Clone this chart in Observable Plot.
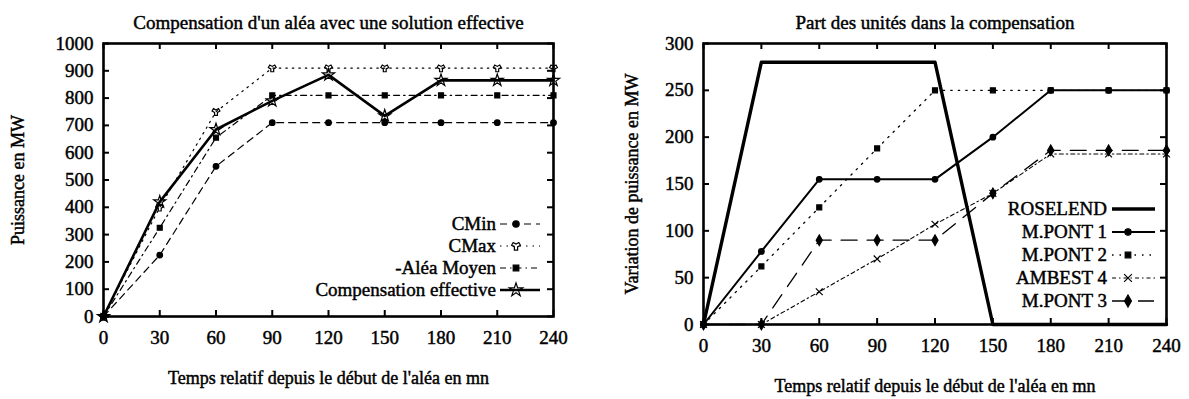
<!DOCTYPE html>
<html><head><meta charset="utf-8">
<script src="https://cdn.jsdelivr.net/npm/d3@7"></script>
<script src="https://cdn.jsdelivr.net/npm/@observablehq/plot@0.6"></script>
<style>
body{margin:0;background:#fff;}
#wrap{position:relative;width:1189px;height:399px;overflow:hidden;background:#fff;}
#wrap svg{position:absolute;top:0;overflow:visible;}
</style></head><body><div id="wrap"></div>
<script>
// ---------- shared ----------
const times = [0, 30, 60, 90, 120, 150, 180, 210, 240];
const xTicks = [0, 30, 60, 90, 120, 150, 180, 210, 240];
const xLabel = "Temps relatif depuis le début de l'aléa en mn";

// ---------- left chart ----------
const leftTitle = "Compensation d'un aléa avec une solution effective";
const leftYLabel = "Puissance en MW";
const leftYTicks = [0, 100, 200, 300, 400, 500, 600, 700, 800, 900, 1000];
const leftNames = ["CMin", "CMax", "-Aléa Moyen", "Compensation effective"];
const cMin = [0, 225, 550, 710, 710, 710, 710, 710, 710];
const cMax = [0, 400, 750, 910, 910, 910, 910, 910, 910];
const aleaMoyen = [0, 325, 655, 810, 810, 810, 810, 810, 810];
const compEffective = [0, 420, 685, 790, 885, 735, 865, 865, 865];

// ---------- right chart ----------
const rightTitle = "Part des unités dans la compensation";
const rightYLabel = "Variation de puissance en MW";
const rightYTicks = [0, 50, 100, 150, 200, 250, 300];
const rightNames = ["ROSELEND", "M.PONT 1", "M.PONT 2", "AMBEST 4", "M.PONT 3"];
const roselend = [0, 280, 280, 280, 280, 0, 0, 0, 0];
const mpont1 = [0, 78, 155, 155, 155, 200, 250, 250, 250];
const mpont2 = [0, 62, 125, 188, 250, 250, 250, 250, 250];
const ambest4 = [0, 0, 35, 70, 107, 140, 182, 182, 182];
const mpont3 = [0, 0, 90, 90, 90, 140, 186, 186, 186];

// ---------- styles ----------
const FONT = "'Liberation Serif', 'Times New Roman', serif";
const leftStyles = [
  {dash: "7,5", width: 1.2, symbol: d3.symbolCircle, r: 2.8, filled: true},
  {dash: "1.5,5", width: 1.2, symbol: d3.symbolWye, r: 3, filled: false},
  {dash: "6,4,1.5,4", width: 1.2, symbol: d3.symbolSquare, r: 2.8, filled: true},
  {dash: null, width: 2.6, symbol: d3.symbolStar, r: 3.8, filled: false}
];
const rightStyles = [
  {dash: null, width: 3.4, symbol: null},
  {dash: null, width: 2, symbol: d3.symbolCircle, r: 2.8, filled: true},
  {dash: "1.5,6", width: 1.3, symbol: d3.symbolSquare, r: 2.8, filled: true},
  {dash: "4,3,1.5,3", width: 1.1, symbol: d3.symbolTimes, r: 3.2, filled: false},
  {dash: "16,10", width: 1.3, symbol: d3.symbolDiamond, r: 3.2, filled: true}
];

function chart(cfg) {
  const {left, width, ml, mr, mt, mb, yDomain, yTicks, names, values, styles,
         title, yLabel, yLabelDx, xLabelDy, xPad, legend} = cfg;
  const height = 399;
  const fw = width - ml - mr, fh = height - mt - mb;
  const marks = [];
  values.forEach((vals, i) => {
    const st = styles[i];
    const data = times.map((t, j) => ({t, v: vals[j], name: names[i]}));
    marks.push(Plot.line(data, {x: "t", y: "v", stroke: "black", strokeWidth: st.width,
      strokeDasharray: st.dash, strokeLinejoin: "round"}));
    if (st.symbol) marks.push(Plot.dot(data, {x: "t", y: "v", symbol: st.symbol, r: st.r,
      fill: st.filled ? "black" : "none", stroke: "black", strokeWidth: 1.2}));
  });
  marks.push(
    Plot.tickX(xTicks, {x: d => d, insetTop: fh - 6, stroke: "black", strokeWidth: 2}),
    Plot.tickX(xTicks, {x: d => d, insetBottom: fh - 6, stroke: "black", strokeWidth: 2}),
    Plot.tickY(yTicks, {y: d => d, insetRight: fw - 6, stroke: "black", strokeWidth: 2}),
    Plot.tickY(yTicks, {y: d => d, insetLeft: fw - 6, stroke: "black", strokeWidth: 2}),
    Plot.frame({stroke: "black", strokeWidth: 2.6}),
    Plot.axisX(xTicks, {tickSize: 0, tickPadding: xPad, label: null, tickFormat: d => String(d)}),
    Plot.axisY(yTicks, {tickSize: 0, tickPadding: 10, label: null, tickFormat: d => String(d)}),
    Plot.text([title], {text: d => d, frameAnchor: "top", dy: -21, lineAnchor: "middle", fontSize: 19}),
    Plot.text([xLabel], {text: d => d, frameAnchor: "bottom", dy: xLabelDy, lineAnchor: "middle", fontSize: 18}),
    Plot.text([yLabel], {text: d => d, frameAnchor: "left", dx: yLabelDx, rotate: -90,
      textAnchor: "middle", lineAnchor: "middle", fontSize: 18})
  );
  const svg = Plot.plot({
    width, height, marginLeft: ml, marginRight: mr, marginTop: mt, marginBottom: mb,
    x: {domain: [0, 240]},
    y: {domain: yDomain},
    style: {fontFamily: FONT, fontSize: "19px", color: "black", background: "white", overflow: "visible"},
    marks
  });
  svg.style.left = left + "px";
  // legend
  const g = d3.select(svg).append("g").attr("font-family", FONT).attr("font-size", 19);
  const fr = width - mr, fb = height - mb;
  names.forEach((name, k) => {
    const st = styles[k];
    const y = fb - legend.bottom + k * legend.step;
    g.append("text").attr("x", fr - legend.textGap).attr("y", y).attr("dy", "0.33em")
      .attr("text-anchor", "end").attr("fill", "black").text(name);
    const x1 = fr - legend.sym1, x2 = fr - legend.sym2;
    g.append("line").attr("x1", x1).attr("x2", x2).attr("y1", y).attr("y2", y)
      .attr("stroke", "black").attr("stroke-width", st.width)
      .attr("stroke-dasharray", st.dash);
    if (st.symbol) {
      g.append("path").attr("transform", `translate(${x1 + 16},${y})`)
        .attr("d", d3.symbol(st.symbol, st.r * st.r * 4)())
        .attr("fill", st.filled ? "black" : "none").attr("stroke", "black").attr("stroke-width", 1.2);
    }
  });
  // scanned look: thicken glyphs
  d3.select(svg).selectAll("text").attr("stroke", "black").attr("stroke-width", 0.45)
    .attr("paint-order", "stroke");
  document.getElementById("wrap").appendChild(svg);
}

chart({left: 0, width: 600, ml: 103, mr: 47, mt: 43, mb: 83,
  yDomain: [0, 1000], yTicks: leftYTicks, names: leftNames,
  values: [cMin, cMax, aleaMoyen, compEffective], styles: leftStyles,
  title: leftTitle, yLabel: leftYLabel, yLabelDx: -85, xLabelDy: 62, xPad: 14,
  legend: {bottom: 92, step: 22, textGap: 57, sym1: 53, sym2: 13}});

chart({left: 600, width: 589, ml: 103, mr: 23, mt: 43, mb: 75,
  yDomain: [0, 300], yTicks: rightYTicks, names: rightNames,
  values: [roselend, mpont1, mpont2, ambest4, mpont3], styles: rightStyles,
  title: rightTitle, yLabel: rightYLabel, yLabelDx: -71, xLabelDy: 62, xPad: 14,
  legend: {bottom: 115, step: 23, textGap: 59, sym1: 54, sym2: 11}});
</script>
</body></html>
